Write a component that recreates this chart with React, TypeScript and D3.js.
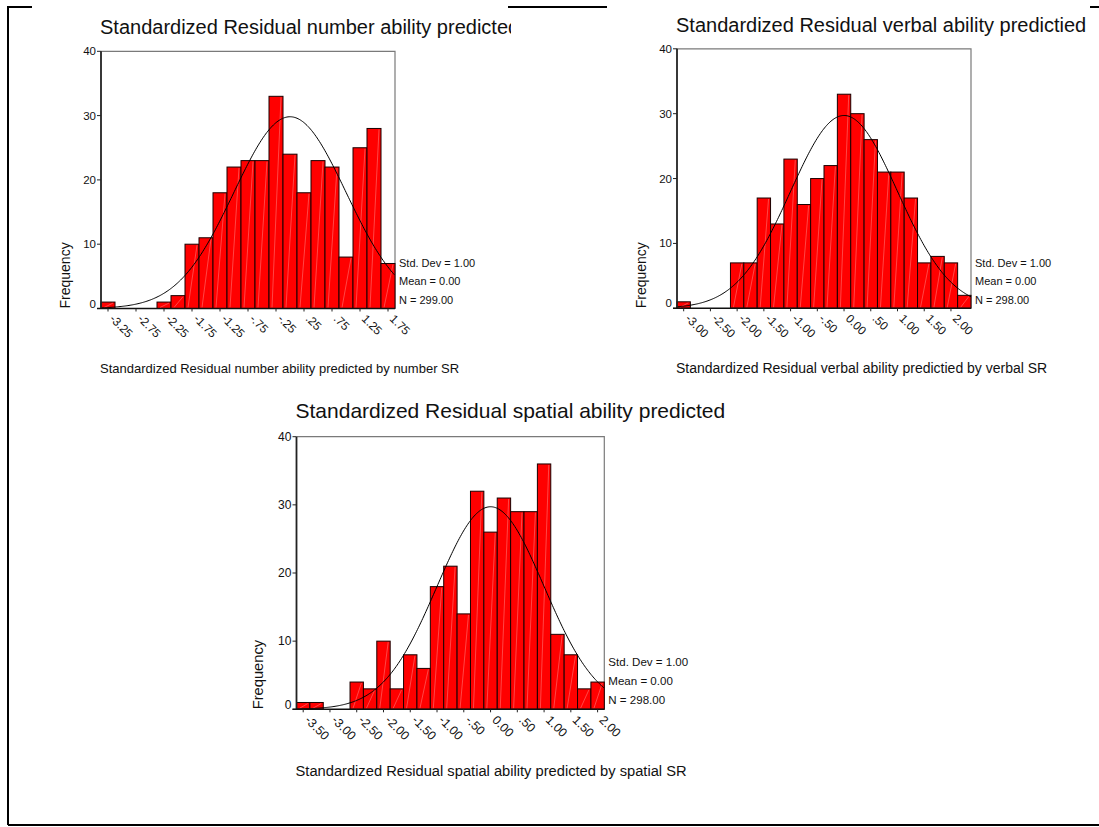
import { useEffect, useRef } from "react";
import * as d3 from "d3";

// bin counts (bin width .25)
const numberCounts = [1, 0, 0, 0, 1, 2, 10, 11, 18, 22, 23, 23, 33, 24, 18, 23, 22, 8, 25, 28, 7];
const numberTicks = ["-3.25", "-2.75", "-2.25", "-1.75", "-1.25", "-.75", "-.25", ".25", ".75", "1.25", "1.75"];

const verbalCounts = [1, 0, 0, 0, 7, 7, 17, 13, 23, 16, 20, 22, 33, 30, 26, 21, 21, 17, 7, 8, 7, 2];
const verbalTicks = ["-3.00", "-2.50", "-2.00", "-1.50", "-1.00", "-.50", "0.00", ".50", "1.00", "1.50", "2.00"];

const spatialCounts = [1, 1, 0, 0, 4, 3, 10, 3, 8, 6, 18, 21, 14, 32, 26, 31, 29, 29, 36, 11, 8, 3, 4];
const spatialTicks = ["-3.50", "-3.00", "-2.50", "-2.00", "-1.50", "-1.00", "-.50", "0.00", ".50", "1.00", "1.50", "2.00"];

const yTicks = [0, 10, 20, 30, 40];
const BIN_WIDTH = 0.25;

const FONT = "Arial, 'Liberation Sans', sans-serif";

const charts = [
  {
    title: "Standardized Residual number ability predicted",
    xTitle: "Standardized Residual number ability predicted by number SR",
    counts: numberCounts,
    ticks: numberTicks,
    firstCenter: -3.25,
    n: 299,
    left: 101, top: 51.3, width: 294, bottom: 308.5,
    titleY: 34, xTitleY: 373, xTitleSize: 13, yTitleX: 70, s: 1,
    clipRight: 511,
  },
  {
    title: "Standardized Residual verbal ability predictied",
    xTitle: "Standardized Residual verbal ability predictied by verbal SR",
    counts: verbalCounts,
    ticks: verbalTicks,
    firstCenter: -3.0,
    n: 298,
    left: 677, top: 48.8, width: 294, bottom: 308.3,
    titleY: 32, xTitleY: 373, xTitleSize: 14, yTitleX: 646, s: 1,
    clipRight: null,
  },
  {
    title: "Standardized Residual spatial ability predicted",
    xTitle: "Standardized Residual spatial ability predicted by spatial SR",
    counts: spatialCounts,
    ticks: spatialTicks,
    firstCenter: -3.5,
    n: 298,
    left: 296.5, top: 436.7, width: 307.8, bottom: 709.3,
    titleY: 418, xTitleY: 776, xTitleSize: 14.7, yTitleX: 263, s: 1.05,
    clipRight: null,
  },
];

export default function App() {
  const ref = useRef<SVGSVGElement>(null);

  useEffect(() => {
    const el = ref.current;
    if (!el) return;
    const svg = d3.select(el);
    svg.selectAll("*").remove();

    svg.append("rect").attr("width", 1099).attr("height", 827).attr("fill", "#fff");

    // page frame (partly hidden behind the chart titles)
    svg
      .append("path")
      .attr("d", "M8,825 L8,7 L32,7 M508,7 L607,7 M1090,7 L1099,7 M8,825 L1099,825")
      .attr("fill", "none")
      .attr("stroke", "#000")
      .attr("stroke-width", 2);

    const defs = svg.append("defs");

    charts.forEach((c, ci) => {
      const g = svg.append("g").attr("font-family", FONT);
      const nb = c.counts.length;
      const x0 = c.firstCenter - BIN_WIDTH / 2;
      const x1 = c.firstCenter + (nb - 0.5) * BIN_WIDTH;
      const x = d3.scaleLinear().domain([x0, x1]).range([c.left, c.left + c.width]);
      const y = d3.scaleLinear().domain([0, 40]).range([c.bottom, c.top]);
      const s = c.s;

      // title
      const title = g
        .append("text")
        .attr("x", c.left - 1)
        .attr("y", c.titleY)
        .attr("font-size", 20 * s)
        .attr("fill", "#111")
        .text(c.title);
      if (c.clipRight) {
        const id = `clip-${ci}`;
        defs
          .append("clipPath")
          .attr("id", id)
          .append("rect")
          .attr("x", 0)
          .attr("y", 0)
          .attr("width", c.clipRight)
          .attr("height", 100);
        title.attr("clip-path", `url(#${id})`);
      }

      // plot border (top + right, grey)
      g.append("path")
        .attr("d", `M${c.left},${c.top} H${c.left + c.width} V${c.bottom}`)
        .attr("fill", "none")
        .attr("stroke", "#7a7a7a")
        .attr("stroke-width", 1.2);

      // bars
      const bars = g.append("g");
      c.counts.forEach((v, i) => {
        if (!v) return;
        const bx0 = x(x0 + i * BIN_WIDTH);
        const bx1 = x(x0 + (i + 1) * BIN_WIDTH);
        bars
          .append("rect")
          .attr("x", bx0)
          .attr("y", y(v))
          .attr("width", bx1 - bx0)
          .attr("height", y(0) - y(v))
          .attr("fill", "#ff0000")
          .attr("stroke", "#1a0000")
          .attr("stroke-width", 1);
        bars
          .append("line")
          .attr("x1", bx0 + 3)
          .attr("y1", y(0) - 1)
          .attr("x2", bx1 - 2)
          .attr("y2", y(v) + 1)
          .attr("stroke", "rgba(255,255,255,0.35)")
          .attr("stroke-width", 0.8);
      });

      // normal curve
      const pts = d3.range(x0, x1 + 0.001, 0.02).map((t) => [
        t,
        (c.n * BIN_WIDTH * Math.exp(-(t * t) / 2)) / Math.sqrt(2 * Math.PI),
      ]);
      g.append("path")
        .attr("d", d3.line().x((d) => x(d[0])).y((d) => y(d[1]))(pts as [number, number][]))
        .attr("fill", "none")
        .attr("stroke", "#000")
        .attr("stroke-width", 1);

      // y axis
      g.append("line")
        .attr("x1", c.left)
        .attr("x2", c.left)
        .attr("y1", c.top)
        .attr("y2", c.bottom)
        .attr("stroke", "#222")
        .attr("stroke-width", 1.8);
      yTicks.forEach((t) => {
        g.append("line")
          .attr("x1", c.left - 4)
          .attr("x2", c.left)
          .attr("y1", y(t))
          .attr("y2", y(t))
          .attr("stroke", "#222");
        g.append("text")
          .attr("x", c.left - 5)
          .attr("y", y(t) - (t === 0 ? 5 : 0))
          .attr("dy", "0.35em")
          .attr("text-anchor", "end")
          .attr("font-size", 11.5 * s)
          .attr("fill", "#111")
          .text(t);
      });

      // x axis
      g.append("line")
        .attr("x1", c.left - 4)
        .attr("x2", c.left + c.width)
        .attr("y1", c.bottom)
        .attr("y2", c.bottom)
        .attr("stroke", "#111")
        .attr("stroke-width", 1.5);
      c.ticks.forEach((lab, i) => {
        const tx = x(c.firstCenter + 2 * i * BIN_WIDTH);
        g.append("line")
          .attr("x1", tx)
          .attr("x2", tx)
          .attr("y1", c.bottom)
          .attr("y2", c.bottom + 3)
          .attr("stroke", "#222");
        g.append("text")
          .attr("transform", `translate(${tx + 1},${c.bottom + 11 * s}) rotate(45)`)
          .attr("font-size", 11.8 * s)
          .attr("fill", "#111")
          .text(lab);
      });

      // axis titles
      g.append("text")
        .attr("transform", `translate(${c.yTitleX},${c.bottom}) rotate(-90)`)
        .attr("font-size", 14 * s)
        .attr("fill", "#111")
        .text("Frequency");
      g.append("text")
        .attr("x", c.left - 1)
        .attr("y", c.xTitleY)
        .attr("font-size", c.xTitleSize)
        .attr("fill", "#111")
        .text(c.xTitle);

      // stats box
      const stats = ["Std. Dev = 1.00", "Mean = 0.00", `N = ${c.n.toFixed(2)}`];
      const offs = [-45.5, -27, -8.5];
      stats.forEach((txt, k) => {
        g.append("text")
          .attr("x", c.left + c.width + 4)
          .attr("y", c.bottom + offs[k] * s)
          .attr("dy", "0.35em")
          .attr("font-size", 11 * s)
          .attr("fill", "#111")
          .text(txt);
      });
    });
  }, []);

  return (
    <svg
      ref={ref}
      width={1099}
      height={827}
      style={{ position: "absolute", left: 0, top: 0 }}
    />
  );
}
